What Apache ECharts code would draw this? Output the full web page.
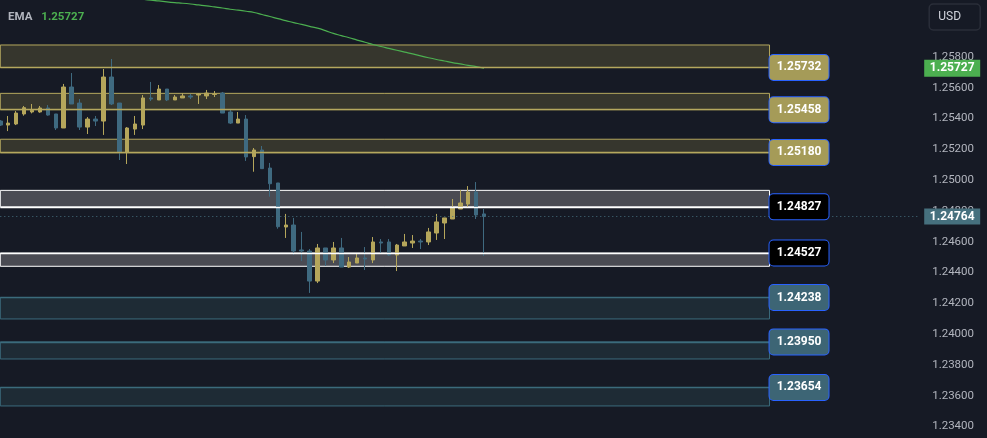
<!DOCTYPE html>
<html><head><meta charset="utf-8">
<script src="https://cdn.jsdelivr.net/npm/echarts@6/dist/echarts.min.js"></script>
<style>html,body{margin:0;padding:0;background:#161a25;overflow:hidden}#c{width:987px;height:438px}</style>
</head><body><div id="c"></div>
<script>
// ---- data ----
const opens  = [1.25384,1.25358,1.25365,1.25430,1.25443,1.25443,1.25469,1.25430,1.25339,1.25605,
                1.25501,1.25345,1.25397,1.25384,1.25670,1.25501,1.25183,1.25332,1.25358,1.25534,
                1.25521,1.25592,1.25521,1.25534,1.25547,1.25553,1.25547,1.25557,1.25566,1.25443,
                1.25371,1.25397,1.25153,1.25196,1.25079,1.24982,1.24696,1.24709,1.24547,1.24540,
                1.24345,1.24560,1.24482,1.24560,1.24436,1.24462,1.24495,1.24482,1.24599,1.24599,
                1.24514,1.24573,1.24592,1.24605,1.24599,1.24657,1.24722,1.24748,1.24813,1.24845,
                1.24923,1.24781];
const closes = [1.25358,1.25371,1.25436,1.25471,1.25454,1.25469,1.25423,1.25339,1.25605,1.25495,
                1.25345,1.25397,1.25384,1.25670,1.25495,1.25183,1.25339,1.25365,1.25534,1.25527,
                1.25592,1.25521,1.25540,1.25547,1.25540,1.25560,1.25566,1.25560,1.25436,1.25371,
                1.25397,1.25151,1.25196,1.25075,1.24977,1.24698,1.24709,1.24540,1.24540,1.24345,
                1.24560,1.24482,1.24560,1.24436,1.24469,1.24495,1.24488,1.24599,1.24592,1.24514,
                1.24579,1.24599,1.24605,1.24599,1.24664,1.24729,1.24755,1.24820,1.24852,1.24923,
                1.24774,1.24764];
const lows   = [1.25352,1.25319,1.25358,1.25419,1.25434,1.25438,1.25419,1.25326,1.25339,1.25495,
                1.25326,1.25300,1.25352,1.25294,1.25488,1.25131,1.25105,1.25294,1.25332,1.25514,
                1.25521,1.25514,1.25521,1.25534,1.25527,1.25495,1.25527,1.25540,1.25436,1.25365,
                1.25371,1.25125,1.25055,1.25075,1.24893,1.24685,1.24625,1.24514,1.24475,1.24268,
                1.24332,1.24443,1.24462,1.24436,1.24430,1.24462,1.24417,1.24462,1.24527,1.24508,
                1.24410,1.24573,1.24560,1.24553,1.24579,1.24612,1.24618,1.24748,1.24813,1.24826,
                1.24748,1.24508];
const highs  = [1.25390,1.25417,1.25449,1.25482,1.25495,1.25482,1.25488,1.25430,1.25625,1.25696,
                1.25527,1.25410,1.25417,1.25722,1.25787,1.25501,1.25345,1.25417,1.25553,1.25638,
                1.25618,1.25592,1.25553,1.25566,1.25560,1.25566,1.25586,1.25579,1.25573,1.25456,
                1.25443,1.25423,1.25209,1.25222,1.25112,1.24982,1.24781,1.24755,1.24664,1.24553,
                1.24586,1.24560,1.24599,1.24625,1.24501,1.24527,1.24566,1.24631,1.24618,1.24618,
                1.24586,1.24651,1.24644,1.24618,1.24690,1.24781,1.24755,1.24878,1.24936,1.24962,
                1.24988,1.24813];
const ema    = [null,null,null,null,null,null,null,null,null,null,
                null,null,null,null,null,null,null,null,1.26175,1.26169,
                1.26164,1.26158,1.26153,1.26149,1.26144,1.26138,1.26132,1.26125,1.26118,1.26110,
                1.26104,1.26097,1.26089,1.26076,1.26063,1.26049,1.26036,1.26023,1.26012,1.25999,
                1.25987,1.25971,1.25953,1.25939,1.25925,1.25910,1.25896,1.25881,1.25868,1.25856,
                1.25844,1.25832,1.25820,1.25807,1.25795,1.25784,1.25774,1.25764,1.25755,1.25746,
                1.25738,1.25727];
const levels   = [1.25732,1.25458,1.25180,1.24827,1.24527,1.24238,1.23950,1.23654];
const zoneHigh = [1.25878,1.25564,1.25266,1.24934,1.24527,1.24238,1.23950,1.23654];
const zoneLow  = [1.25732,1.25458,1.25178,1.24827,1.24441,1.24099,1.23839,1.23534];
const zoneKind = ['y','y','y','w','w','b','b','b'];
const lastPrice = 1.24764;
const emaLast = 1.25727;
const yTicksMin = 1.232, yTicksMax = 1.262, yStep = 0.002;
const slotCount = 117;          // candle slots incl. empty space on the right
const zoneEndSlot = 97;
const categories = Array.from({length: slotCount}, (_, i) => String(i));

// ---- styles ----
const FONT = 'Roboto, "Noto Sans", sans-serif';
const kindStyle = {
  y: {fill: '#36362d', line: '#b5a85e', labelBg: '#a59b58'},
  w: {fill: '#4a4b53', line: '#ffffff', labelBg: '#000000'},
  b: {fill: '#1e2b35', line: '#3b6b7c', labelBg: '#3d6575'}
};

const candleData = opens.map((o, i) => [o, closes[i], lows[i], highs[i]]);

const areaData = levels.map((lv, i) => {
  const st = kindStyle[zoneKind[i]];
  return [{xAxis: 0, yAxis: zoneHigh[i], itemStyle: {color: st.fill, borderColor: st.line, borderWidth: 1}},
          {xAxis: zoneEndSlot, yAxis: zoneLow[i]}];
});

function boxLabel(text, bg, w, padV, lh, dist, border) {
  return {
    show: true, position: 'end', distance: dist,
    formatter: '{v|' + text + '}',
    backgroundColor: bg,
    borderColor: border ? '#2962ff' : bg,
    borderWidth: border ? 1 : 0,
    borderRadius: border ? 4 : 0,
    padding: [padV, 0],
    opacity: 1,
    rich: {v: {width: w, align: 'center', color: '#ffffff', fontWeight: 'bold',
               fontSize: 12, lineHeight: lh, fontFamily: FONT}}
  };
}

const levelLines = levels.map((lv, i) => {
  const st = kindStyle[zoneKind[i]];
  return [{xAxis: 0, yAxis: lv, lineStyle: {color: st.line, width: 1.3, type: 'solid'},
           label: boxLabel(lv.toFixed(5), st.labelBg, 59, 6, 13, 0, true)},
          {xAxis: zoneEndSlot, yAxis: lv}];
});
levelLines.push({yAxis: lastPrice,
  lineStyle: {color: '#46707e', width: 1, type: [1, 3]},
  label: boxLabel(lastPrice.toFixed(5), '#46707e', 56, 2, 12, 4, false)});

const chart = echarts.init(document.getElementById('c'));
chart.setOption({
  backgroundColor: '#161a25',
  animation: false,
  textStyle: {fontFamily: FONT},
  title: [
    {text: '{a|EMA}  {b|' + emaLast.toFixed(5) + '}', left: 8, top: 8, padding: 0,
     textStyle: {rich: {a: {color: '#b2b5be', fontSize: 11.5, fontFamily: FONT, lineHeight: 13},
                        b: {color: '#4caf50', fontSize: 11.5, fontFamily: FONT, lineHeight: 13}}}},
    {text: 'USD', right: 7, top: 4, padding: [6, 19, 6, 9],
     backgroundColor: '#161a25', borderColor: '#2a2e39', borderWidth: 1.5, borderRadius: 4,
     textStyle: {color: '#d1d4dc', fontSize: 12, fontWeight: 'normal', fontFamily: FONT, lineHeight: 14}}
  ],
  grid: {left: 0.3, top: -4.6, width: 919.9, height: 462, outerBoundsMode: 'none', containLabel: false},
  xAxis: {type: 'category', data: categories, boundaryGap: false, show: false},
  yAxis: {
    type: 'value', position: 'right', min: yTicksMin, max: yTicksMax, interval: yStep,
    splitLine: {show: false}, axisLine: {show: false}, axisTick: {show: false},
    axisLabel: {color: '#b2b5be', fontSize: 11.5, margin: 12, fontFamily: FONT,
                showMinLabel: false, showMaxLabel: false,
                formatter: v => v > 1.259 ? '' : v.toFixed(5)}
  },
  series: [
    {
      type: 'candlestick', data: candleData, barWidth: 4,
      itemStyle: {color: '#b5a65b', color0: '#3f6a80', borderColor: '#b5a65b', borderColor0: '#3f6a80', borderWidth: 1},
      markArea: {silent: true, data: areaData},
      markLine: {silent: true, symbol: ['none', 'none'], animation: false, precision: 5, data: levelLines}
    },
    {
      type: 'line', data: ema, showSymbol: false, smooth: true, z: 3,
      lineStyle: {color: '#4caf50', width: 1.2},
      markLine: {silent: true, symbol: ['none', 'none'], animation: false, precision: 5,
        data: [{yAxis: emaLast, lineStyle: {width: 1, color: 'rgba(0,0,0,0)'},
                label: boxLabel(emaLast.toFixed(5), '#4caf50', 56, 2, 13, 4, false)}]}
    }
  ]
});
</script></body></html>
